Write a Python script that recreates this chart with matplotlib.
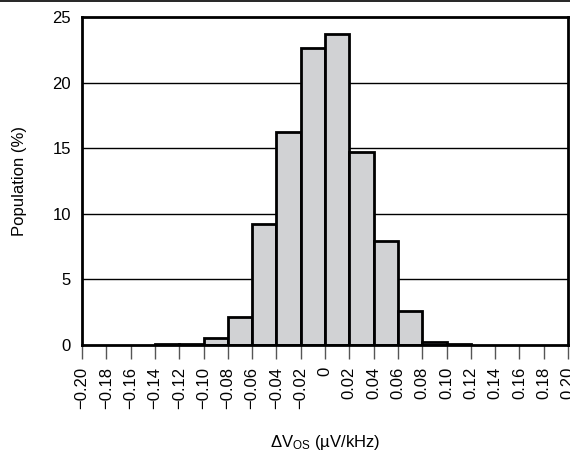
import numpy as np
from matplotlib import pyplot as plt
from matplotlib.lines import Line2D

# Bin edges (uV/kHz) and population per bin (%)
bin_left = [-0.14, -0.12, -0.10, -0.08, -0.06, -0.04, -0.02, 0.00,
            0.02, 0.04, 0.06, 0.08, 0.10]
population = [0.1, 0.1, 0.5, 2.1, 9.2, 16.2, 22.6, 23.7,
              14.7, 7.9, 2.6, 0.25, 0.1]
bin_width = 0.02

xtick_vals = [-0.20, -0.18, -0.16, -0.14, -0.12, -0.10, -0.08, -0.06, -0.04, -0.02,
              0.0, 0.02, 0.04, 0.06, 0.08, 0.10, 0.12, 0.14, 0.16, 0.18, 0.20]
xtick_labels = ["\u22120.20", "\u22120.18", "\u22120.16", "\u22120.14", "\u22120.12",
                "\u22120.10", "\u22120.08", "\u22120.06", "\u22120.04", "\u22120.02",
                "0", "0.02", "0.04", "0.06", "0.08", "0.10", "0.12", "0.14",
                "0.16", "0.18", "0.20"]
ytick_vals = [0, 5, 10, 15, 20, 25]

plt.rcParams['font.family'] = ['Liberation Sans', 'DejaVu Sans']
plt.rcParams['mathtext.default'] = 'regular'

fig = plt.figure(figsize=(5.7, 4.55), dpi=100)
ax = fig.add_axes([0.144, 0.242, 0.8525, 0.7206])

for y in [5, 10, 15, 20]:
    ax.axhline(y, color="black", lw=1.0, zorder=1)

ax.bar(bin_left, population, width=bin_width, align="edge",
       color="#d1d2d4", edgecolor="black", linewidth=2.0, zorder=2)

ax.set_xlim(-0.20, 0.20)
ax.set_ylim(0, 25)
ax.set_xticks(xtick_vals)
ax.set_xticklabels(xtick_labels, rotation=90, fontsize=12)
ax.set_yticks(ytick_vals)
ax.set_yticklabels([str(v) for v in ytick_vals], fontsize=12)
ax.tick_params(axis="x", direction="out", length=10, width=1, color="#555555", pad=6)
ax.tick_params(axis="y", length=0, pad=8)

for s in ax.spines.values():
    s.set_linewidth(2.0)
    s.set_zorder(3)

ax.set_ylabel("Population (%)", fontsize=12, labelpad=18)
ax.set_xlabel("\u0394V$_{OS}$ (\u00b5V/kHz)", fontsize=12, labelpad=17)

# thin rule across the top of the figure
fig.add_artist(Line2D([0, 1], [0.997, 0.997], color="black", lw=1.2,
                      transform=fig.transFigure))

plt.savefig("out.png", dpi=100)
